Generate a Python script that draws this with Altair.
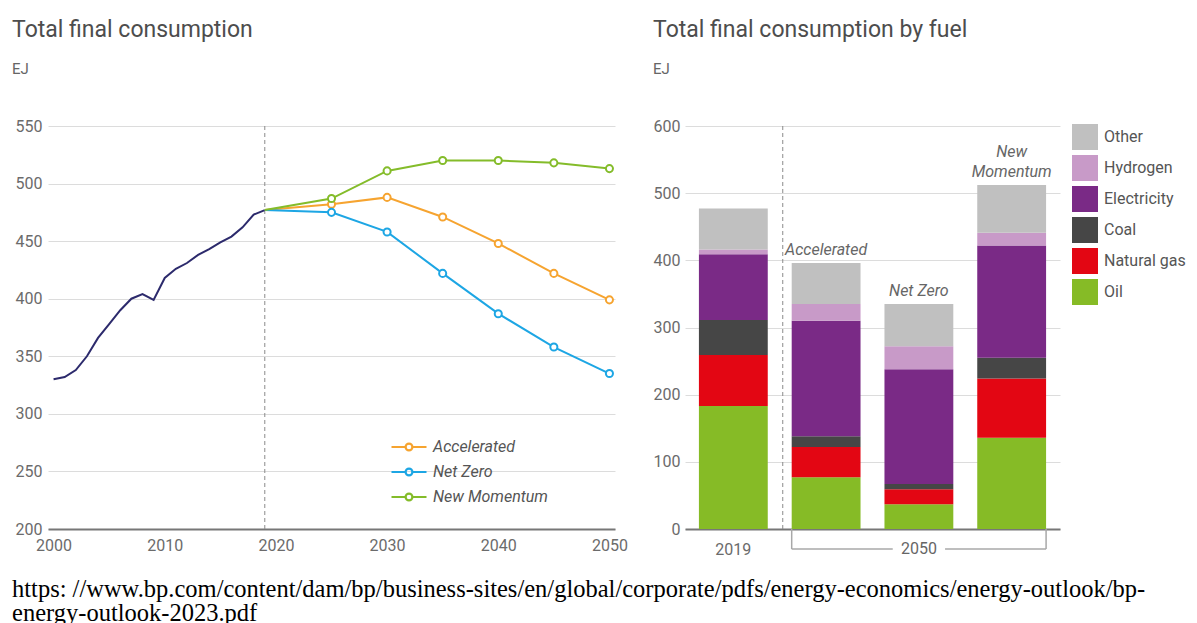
import altair as alt
import pandas as pd

FONT = "Roboto"
AXIS_GREY = "#6b6b6b"

# ---------------- Left chart data ----------------
hist_years = list(range(2000, 2020))
hist_values = [330, 332, 338, 350, 366, 378, 390, 400, 404, 399,
               418, 426, 431, 438, 443, 449, 454, 462, 473, 477]

scen_years = [2019, 2025, 2030, 2035, 2040, 2045, 2050]
accelerated = [477, 482, 488, 471, 448, 422, 399]
net_zero = [477, 475, 458, 422, 387, 358, 335]
new_momentum = [477, 487, 511, 520, 520, 518, 513]
scenario_names = ["Accelerated", "Net Zero", "New Momentum"]
scenario_colors = ["#f6a430", "#1da6e4", "#84bc2a"]
hist_color = "#2c2a6c"

left_x_ticks = [2000, 2010, 2020, 2030, 2040, 2050]
left_y_ticks = [200, 250, 300, 350, 400, 450, 500, 550]
divider_year = [2019]

# ---------------- Right chart data ----------------
bar_categories = ["2019", "Accelerated", "Net Zero", "New Momentum"]
bar_labels = ["", "Accelerated", "Net Zero", "New\nMomentum"]
fuels = ["Other", "Hydrogen", "Electricity", "Coal", "Natural gas", "Oil"]
fuel_colors = ["#c0c0c0", "#c89ac8", "#7a2a86", "#464646", "#e30613", "#86bb26"]
oil = [183, 77, 37, 136]
natural_gas = [76, 45, 22, 88]
coal = [52, 16, 8, 31]
electricity = [98, 172, 171, 167]
hydrogen = [7, 25, 34, 19]
other = [61, 61, 63, 71]
right_y_ticks = [0, 100, 200, 300, 400, 500, 600]
bracket_label = "2050"
source_lines = [
    "https: //www.bp.com/content/dam/bp/business-sites/en/global/corporate/pdfs/energy-economics/energy-outlook/bp-",
    "energy-outlook-2023.pdf",
]

# ---------------- Frames ----------------
hist_df = pd.DataFrame({"year": hist_years, "value": hist_values})
scen_df = pd.DataFrame({
    "year": scen_years * 3,
    "value": accelerated + net_zero + new_momentum,
    "scenario": [n for n in scenario_names for _ in scen_years],
})
pts_df = scen_df[scen_df["year"] > 2019]
div_df = pd.DataFrame({"year": divider_year})

fuel_values = {"Oil": oil, "Natural gas": natural_gas, "Coal": coal,
               "Electricity": electricity, "Hydrogen": hydrogen, "Other": other}
stack_order = fuels[::-1]
rows = []
for i, cat in enumerate(bar_categories):
    for rank, f in enumerate(stack_order):
        rows.append({"category": cat, "fuel": f, "value": fuel_values[f][i], "rank": rank})
bars_df = pd.DataFrame(rows)
totals = [sum(fuel_values[f][i] for f in fuels) for i in range(len(bar_categories))]
labels_df = pd.DataFrame({"category": bar_categories, "value": totals, "label": bar_labels})
labels_df = labels_df[labels_df["label"] != ""]
single_df = labels_df[~labels_df["label"].str.contains("\n")]
multi_df = labels_df[labels_df["label"].str.contains("\n")]

LW, RW, H = 567, 375, 403

# ---------------- Left chart ----------------
x_left = alt.X("year:Q",
               scale=alt.Scale(domain=[1999.5, 2050.5], nice=False, zero=False),
               axis=alt.Axis(values=left_x_ticks, format="d", title=None, grid=False,
                             ticks=False, domainColor="#777777", domainWidth=2,
                             labelPadding=8))
y_left = alt.Y("value:Q",
               scale=alt.Scale(domain=[200, 550], nice=False, zero=False),
               axis=alt.Axis(values=left_y_ticks, title=None, domain=False, ticks=False,
                             gridColor="#dcdcdc", labelPadding=6))

# line - ring - line legend glyph (ring = two opposite circles so fill stays a hairline)
legend_path = ("M-1.75,0L-0.35,0M0.35,0L1.75,0"
               "M-0.35,0A0.35,0.35,0,1,1,0.35,0A0.35,0.35,0,1,1,-0.35,0Z"
               "M-0.33,0A0.33,0.33,0,1,0,0.33,0A0.33,0.33,0,1,0,-0.33,0Z")
color_scen = alt.Color("scenario:N",
                       scale=alt.Scale(domain=scenario_names, range=scenario_colors),
                       legend=alt.Legend(orient="none", legendX=350, legendY=310, title=None,
                                         symbolType=legend_path, symbolSize=400,
                                         symbolStrokeWidth=2, symbolFillColor="white",
                                         labelFontSize=16, labelFontStyle="italic",
                                         labelColor="#555555", labelOffset=13, rowPadding=6))

divider_left = alt.Chart(div_df).mark_rule(strokeDash=[4, 3], color="#8a8a8a", strokeWidth=1).encode(x=x_left)
hist_line = alt.Chart(hist_df).mark_line(color=hist_color, strokeWidth=2).encode(x=x_left, y=y_left)
scen_lines = alt.Chart(scen_df).mark_line(strokeWidth=2).encode(x=x_left, y=y_left, color=color_scen)
scen_pts = alt.Chart(pts_df).mark_point(filled=False, fill="white", fillOpacity=1, size=50,
                                        strokeWidth=2, opacity=1).encode(
    x=x_left, y=y_left, color=color_scen)

left = alt.layer(divider_left, hist_line, scen_lines, scen_pts).properties(
    width=LW, height=H,
    title=alt.TitleParams(text="Total final consumption", subtitle="EJ", anchor="start",
                          frame="bounds", fontSize=23, fontWeight="normal", color="#4d4d4d",
                          subtitleFontSize=15, subtitleColor="#666666", subtitlePadding=20,
                          offset=41, dx=-3, font=FONT, subtitleFont=FONT))

# ---------------- Right chart ----------------
band_scale = alt.Scale(domain=bar_categories, paddingInner=0.258, paddingOuter=0.15)
r_axis = alt.Axis(title=None, labelAngle=0, ticks=False, domainColor="#777777", domainWidth=2,
                  labelExpr="datum.value == '2019' ? '2019' : ''", labelPadding=12)
y_scale_r = alt.Scale(domain=[0, 600], nice=False)
y_axis_r = alt.Axis(values=right_y_ticks, title=None, domain=False, ticks=False,
                    gridColor="#dcdcdc", labelPadding=5)


def rx(field="category", bp=None):
    if bp is None:
        return alt.X(f"{field}:N", scale=band_scale, axis=r_axis)
    return alt.X(f"{field}:N", scale=band_scale, axis=r_axis, bandPosition=bp)


bars = alt.Chart(bars_df).mark_bar().encode(
    x=rx(),
    y=alt.Y("value:Q", stack="zero", scale=y_scale_r, axis=y_axis_r),
    color=alt.Color("fuel:N", scale=alt.Scale(domain=fuels, range=fuel_colors),
                    legend=alt.Legend(orient="none", legendX=387, legendY=-2, title=None,
                                      symbolType="square", symbolSize=676, symbolStrokeWidth=0,
                                      symbolOpacity=1, rowPadding=5, labelFontSize=16,
                                      labelColor="#555555", labelOffset=6)),
    order=alt.Order("rank:Q"),
)

div_r_df = pd.DataFrame({"category": [bar_categories[0]]})
divider_right = alt.Chart(div_r_df).mark_rule(strokeDash=[4, 3], color="#8a8a8a", strokeWidth=1,
                                              xOffset=15).encode(x=rx(bp=1))

LINE_H = 20


def label_layer(df, n_lines):
    return alt.Chart(df).mark_text(fontStyle="italic", fontSize=16, color="#666666",
                                   baseline="bottom", dy=-5 - LINE_H * (n_lines - 1),
                                   lineBreak="\n", font=FONT, lineHeight=LINE_H).encode(
        x=rx(bp=0.5),
        y=alt.Y("value:Q", stack=None, scale=y_scale_r, axis=y_axis_r),
        text="label:N")


text_single = label_layer(single_df, 1)
text_multi = label_layer(multi_df, 2)

BR_Y = H + 20
brk_color = "#a8a8a8"
brk_l_df = pd.DataFrame({"category": [bar_categories[1]], "end": [bar_categories[2]]})
brk_r_df = pd.DataFrame({"category": [bar_categories[2]], "end": [bar_categories[3]]})
brk_left_h = alt.Chart(brk_l_df).mark_rule(color=brk_color, strokeWidth=1.5).encode(
    x=rx(bp=0), x2=alt.X2("end:N", bandPosition=0.12), y=alt.value(BR_Y))
brk_right_h = alt.Chart(brk_r_df).mark_rule(color=brk_color, strokeWidth=1.5).encode(
    x=rx(bp=0.88), x2=alt.X2("end:N", bandPosition=1), y=alt.value(BR_Y))
brk_left_v = alt.Chart(brk_l_df).mark_rule(color=brk_color, strokeWidth=1.5).encode(
    x=rx(bp=0), y=alt.value(H), y2=alt.value(BR_Y))
brk_right_v = alt.Chart(brk_r_df).mark_rule(color=brk_color, strokeWidth=1.5).encode(
    x=rx("end", bp=1), y=alt.value(H), y2=alt.value(BR_Y))
brk_text_df = pd.DataFrame({"category": [bar_categories[2]], "label": [bracket_label]})
brk_text = alt.Chart(brk_text_df).mark_text(fontSize=16, color="#666666", baseline="middle",
                                             font=FONT).encode(
    x=rx(bp=0.5), y=alt.value(BR_Y), text="label:N")

right = alt.layer(bars, divider_right, text_single, text_multi, brk_left_h, brk_right_h,
                  brk_left_v, brk_right_v, brk_text).properties(
    width=RW, height=H,
    title=alt.TitleParams(text="Total final consumption by fuel", subtitle="EJ", anchor="start",
                          frame="bounds", fontSize=23, fontWeight="normal", color="#4d4d4d",
                          subtitleFontSize=15, subtitleColor="#666666", subtitlePadding=20,
                          offset=41, font=FONT, subtitleFont=FONT))

chart = alt.hconcat(left, right, spacing=25).resolve_scale(
    color="independent"
).resolve_legend(color="independent").properties(
    padding={"left": 4, "top": 11, "right": 0, "bottom": 0},
    title=alt.TitleParams(text=source_lines, orient="bottom", anchor="start", frame="bounds",
                          font="Liberation Serif", fontSize=24.5, fontWeight="normal",
                          color="#000000", lineHeight=24, offset=21, dx=0),
).configure_view(stroke=None).configure_axis(
    labelFont=FONT, labelFontSize=16, labelColor=AXIS_GREY
).configure_legend(labelFont=FONT)

chart.save("out.html", embed_options={"renderer": "svg", "actions": False})
